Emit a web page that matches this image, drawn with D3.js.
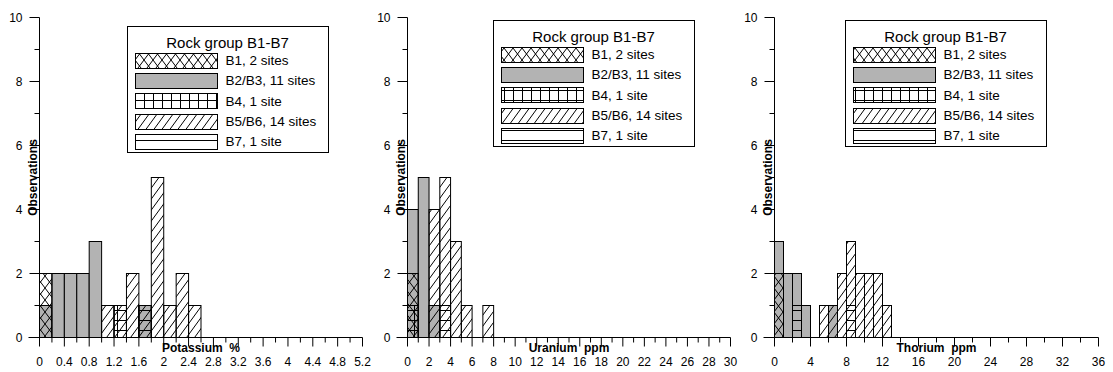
<!DOCTYPE html>
<html>
<head>
<meta charset="utf-8">
<script src="https://cdn.jsdelivr.net/npm/d3@7"></script>
<style>
  body { margin: 0; background: #fff; }
  svg { display: block; font-family: "Liberation Sans", Arial, sans-serif; }
</style>
</head>
<body>
<svg id="chart" width="1113" height="372"></svg>
<script>
// ---- data ----
var groups = ["B1, 2 sites", "B2/B3, 11 sites", "B4, 1 site", "B5/B6, 14 sites", "B7, 1 site"];

// potassium, bins of 0.2 %
var kBins = [0, 0.2, 0.4, 0.6, 0.8, 1.0, 1.2, 1.4, 1.6, 1.8, 2.0, 2.2, 2.4];
var kB1  = [2, 0, 0, 0, 0, 0, 0, 0, 0, 0, 0, 0, 0];
var kB23 = [1, 2, 2, 2, 3, 0, 0, 0, 1, 0, 0, 0, 0];
var kB4  = [0, 0, 0, 0, 0, 0, 1, 0, 0, 0, 0, 0, 0];
var kB56 = [0, 0, 0, 0, 0, 1, 1, 2, 1, 5, 1, 2, 1];
var kB7  = [0, 0, 0, 0, 0, 0, 0, 0, 1, 0, 0, 0, 0];
var kTicks = [0, 0.4, 0.8, 1.2, 1.6, 2, 2.4, 2.8, 3.2, 3.6, 4, 4.4, 4.8, 5.2];

// uranium, bins of 1 ppm
var uBins = [0, 1, 2, 3, 4, 5, 6, 7];
var uB1  = [2, 0, 0, 0, 0, 0, 0, 0];
var uB23 = [4, 5, 1, 0, 0, 0, 0, 0];
var uB4  = [1, 0, 0, 0, 0, 0, 0, 0];
var uB56 = [0, 0, 4, 5, 3, 1, 0, 1];
var uB7  = [0, 0, 0, 1, 0, 0, 0, 0];
var uTicks = [0, 2, 4, 6, 8, 10, 12, 14, 16, 18, 20, 22, 24, 26, 28, 30];

// thorium, bins of 1 ppm
var tBins = [0, 1, 2, 3, 4, 5, 6, 7, 8, 9, 10, 11, 12];
var tB1  = [2, 0, 0, 0, 0, 0, 0, 0, 0, 0, 0, 0, 0];
var tB23 = [3, 2, 2, 1, 0, 0, 1, 0, 0, 0, 0, 0, 0];
var tB4  = [0, 0, 1, 0, 0, 0, 0, 0, 0, 0, 0, 0, 0];
var tB56 = [0, 0, 0, 0, 0, 1, 1, 2, 3, 2, 2, 2, 1];
var tB7  = [0, 0, 0, 0, 0, 0, 0, 0, 1, 0, 0, 0, 0];
var tTicks = [0, 4, 8, 12, 16, 20, 24, 28, 32, 36];

var yTicks = [0, 2, 4, 6, 8, 10];

// ---- layout ----
var svg = d3.select("#chart");
svg.append("rect").attr("width", 1113).attr("height", 372).attr("fill", "#fff");

var grey = "#b3b3b3";
var defs = svg.append("defs");

function pattern(id, w, h, d) {
	var p = defs.append("pattern")
		.attr("id", id)
		.attr("patternUnits", "userSpaceOnUse")
		.attr("width", w).attr("height", h);
	p.append("path").attr("d", d)
		.attr("stroke", "#000").attr("stroke-width", 1).attr("fill", "none");
}
pattern("cross", 9, 12, "M0,0L9,12M9,0L0,12");
pattern("hatch", 8, 11, "M0,11L8,0M-8,11L0,0M8,11L16,0");
pattern("grid", 9, 10, "M0.5,0V10M0,0.5H9");
pattern("hlines", 10, 10, "M0,0.5H10");

// draw order: grey first, hatched ones on top (transparent)
var fills = ["url(#cross)", grey, "url(#grid)", "url(#hatch)", "url(#hlines)"];
var drawOrder = [1, 3, 0, 2, 4];

var panels = [
	{ bins: kBins, w: 0.2, series: [kB1, kB23, kB4, kB56, kB7], dom: [0, 5.2], px: [39.5, 362.5],
	  ticks: kTicks, minor: 0.2, title: "Potassium  %", leg: [127.5, 26.5] },
	{ bins: uBins, w: 1, series: [uB1, uB23, uB4, uB56, uB7], dom: [0, 30], px: [407.5, 730.5],
	  ticks: uTicks, minor: 1, title: "Uranium  ppm", leg: [493.5, 20.5] },
	{ bins: tBins, w: 1, series: [tB1, tB23, tB4, tB56, tB7], dom: [0, 36], px: [774.5, 1098.5],
	  ticks: tTicks, minor: 2, title: "Thorium  ppm", leg: [845.5, 20.5] }
];

var y = d3.scaleLinear().domain([0, 10]).range([337.5, 17.5]);

panels.forEach(function (p) {
	var x = d3.scaleLinear().domain(p.dom).range(p.px);
	var g = svg.append("g");

	// bars
	drawOrder.forEach(function (s) {
		var vals = p.series[s];
		g.selectAll(null)
			.data(p.bins.map(function (b, i) { return { x: b, v: vals[i] }; }).filter(function (d) { return d.v > 0; }))
			.enter().append("rect")
			.attr("x", function (d) { return x(d.x); })
			.attr("width", function (d) { return x(d.x + p.w) - x(d.x); })
			.attr("y", function (d) { return y(d.v); })
			.attr("height", function (d) { return y(0) - y(d.v); })
			.attr("fill", fills[s])
			.attr("stroke", "#000")
			.attr("stroke-width", 1);
	});

	// y axis
	var yMinor = d3.range(1, 10, 2);
	g.append("line").attr("x1", p.px[0]).attr("x2", p.px[0]).attr("y1", y(0)).attr("y2", y(10))
		.attr("stroke", "#000");
	g.selectAll(null).data(yTicks).enter().append("line")
		.attr("x1", p.px[0] - 10).attr("x2", p.px[0])
		.attr("y1", function (d) { return y(d); }).attr("y2", function (d) { return y(d); })
		.attr("stroke", "#000");
	g.selectAll(null).data(yMinor).enter().append("line")
		.attr("x1", p.px[0] - 5).attr("x2", p.px[0])
		.attr("y1", function (d) { return y(d); }).attr("y2", function (d) { return y(d); })
		.attr("stroke", "#000");
	g.selectAll(null).data(yTicks).enter().append("text")
		.attr("x", p.px[0] - 17).attr("y", function (d) { return y(d); })
		.attr("dy", "0.35em").attr("text-anchor", "end")
		.attr("font-size", 12).text(function (d) { return d; });
	g.append("text")
		.attr("transform", "translate(" + (p.px[0] - 7) + "," + ((y(0) + y(10)) / 2) + ") rotate(-90)")
		.attr("dy", "0.35em").attr("text-anchor", "middle")
		.attr("font-size", 12).attr("font-weight", "bold")
		.text("Observations");

	// x axis
	var xMinor = d3.range(p.dom[0] + p.minor, p.dom[1], p.minor * 2);
	g.append("line").attr("x1", p.px[0] - 11).attr("x2", p.px[1]).attr("y1", y(0)).attr("y2", y(0))
		.attr("stroke", "#000");
	g.selectAll(null).data(p.ticks).enter().append("line")
		.attr("x1", function (d) { return x(d); }).attr("x2", function (d) { return x(d); })
		.attr("y1", y(0)).attr("y2", y(0) + 9)
		.attr("stroke", "#000");
	g.selectAll(null).data(xMinor).enter().append("line")
		.attr("x1", function (d) { return x(d); }).attr("x2", function (d) { return x(d); })
		.attr("y1", y(0)).attr("y2", y(0) + 5)
		.attr("stroke", "#000");
	g.selectAll(null).data(p.ticks).enter().append("text")
		.attr("x", function (d) { return x(d); }).attr("y", 366)
		.attr("text-anchor", "middle").attr("font-size", 12)
		.text(function (d) { return d; });
	g.append("text")
		.attr("x", (p.px[0] + p.px[1]) / 2).attr("y", 352)
		.attr("text-anchor", "middle").attr("font-size", 12).attr("font-weight", "bold")
		.attr("xml:space", "preserve").style("white-space", "pre")
		.text(p.title);

	// legend
	var lx = p.leg[0], ly = p.leg[1];
	var lg = g.append("g");
	lg.append("rect").attr("x", lx).attr("y", ly).attr("width", 201).attr("height", 126)
		.attr("fill", "#fff").attr("stroke", "#000");
	lg.append("text").attr("x", lx + 100).attr("y", ly + 21)
		.attr("text-anchor", "middle").attr("font-size", 15)
		.text("Rock group B1-B7");
	groups.forEach(function (name, i) {
		var cy = ly + 33.5 + 20.4 * i;
		lg.append("rect").attr("x", lx + 8).attr("y", Math.round(cy - 7.5) + 0.5)
			.attr("width", 82).attr("height", 15)
			.attr("fill", "#fff").attr("stroke", "none");
		lg.append("rect").attr("x", lx + 8).attr("y", Math.round(cy - 7.5) + 0.5)
			.attr("width", 82).attr("height", 15)
			.attr("fill", fills[i]).attr("stroke", "#000");
		lg.append("text").attr("x", lx + 98).attr("y", cy)
			.attr("dy", "0.35em").attr("font-size", 13.5)
			.text(name);
	});
});
</script>
</body>
</html>
